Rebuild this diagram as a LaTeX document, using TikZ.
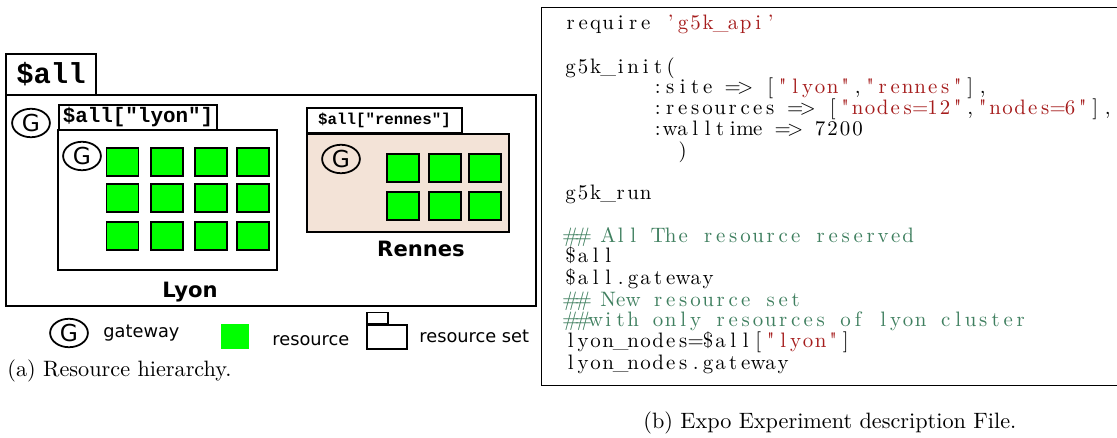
\documentclass[tikz,border=0pt]{standalone}
\usepackage{fontspec}
\newfontfamily\dejavu{DejaVu Sans}
\newfontfamily\cour{Liberation Mono}
\newfontfamily\codefont{lmroman10-regular.otf}[Ligatures=TeXOff]
\usetikzlibrary{shapes.geometric}
\definecolor{setfill}{RGB}{243,227,215}
\definecolor{resgreen}{RGB}{0,255,0}
\definecolor{codestr}{RGB}{165,28,28}
\definecolor{codecom}{RGB}{63,127,95}
\newlength{\codew}\setlength{\codew}{5.625pt}
\ExplSyntaxOn
\NewDocumentCommand{\codechars}{m}{\tl_map_inline:nn {#1} {\makebox[\codew]{##1}}}
\ExplSyntaxOff
\begin{document}
\begin{tikzpicture}[x=0.45pt,y=-0.45pt,gwstyle/.style={ellipse,draw,line width=0.8pt,inner sep=0pt,minimum width=17pt,minimum height=12.8pt,font=\dejavu\fontsize{10.5}{10.5}\selectfont}]
		\tikzstyle{resbox}=[draw,line width=0.8pt,fill=resgreen,minimum width=14.4pt,minimum height=12.8pt,inner sep=0pt]
		\tikzstyle{setlbl}=[draw,line width=0.9pt,fill=white,inner sep=0pt]
		\tikzstyle{setbox}=[draw,line width=0.8pt,inner sep=0pt]
		\tikzstyle{sitename}=[anchor=base,inner sep=0pt,font=\dejavu\bfseries\fontsize{9.5}{9.5}\selectfont]
		\tikzstyle{legtext}=[anchor=base west,inner sep=0pt,font=\dejavu\fontsize{8}{8}\selectfont]
		\tikzstyle{codeline}=[anchor=base west,inner sep=0pt,font=\codefont\fontsize{9.4}{11}\selectfont]
		\useasboundingbox (0,0) rectangle (1117,438);
		
		% resource hierarchy
		\node[setbox,minimum width=238.5pt,minimum height=95pt] (allBox) at (271,200.5){};
		\node[setlbl,minimum width=40.5pt,minimum height=18.5pt,font=\cour\bfseries\fontsize{13}{13}\selectfont] (allLbl) at (51,74.5){\$all};
		\node[gwstyle] (gAll) at (31,123){G};
		
		\node[setbox,minimum width=98.5pt,minimum height=63pt] (lyonBox) at (167.5,200){};
		\node[setlbl,minimum width=71.1pt,minimum height=11.25pt,font=\cour\bfseries\fontsize{9.4}{9.4}\selectfont] (lyonLbl) at (138,117.5){\$all["lyon"]};
		\node[gwstyle] (gLyon) at (82,156){G};
		\foreach \x [count=\i] in {122.5,167,211,253}
		{\foreach \y [count=\j] in {162,198,236}
			\node[resbox] (ly\j\i) at (\x,\y){};}
		\node[sitename] (lyonTxt) at (190,298){Lyon};
		
		\node[setbox,fill=setfill,minimum width=90.9pt,minimum height=44.1pt] (rennesBox) at (408,183){};
		\node[setlbl,minimum width=69.75pt,minimum height=11.25pt,font=\cour\bfseries\fontsize{7.1}{7.1}\selectfont] (rennesLbl) at (384.5,120.5){\$all["rennes"]};
		\node[gwstyle] (gRennes) at (341,159){G};
		\foreach \x [count=\i] in {403,445,485}
		{\foreach \y [count=\j] in {168,206}
			\node[resbox] (rn\j\i) at (\x,\y){};}
		\node[sitename] (rennesTxt) at (421,257){Rennes};
		
		% legend
		\node[gwstyle] (gLeg) at (69,333){G};
		\node[legtext] (gLegTxt) at (103,338){gateway};
		\node[fill=resgreen,minimum width=12.6pt,minimum height=11.25pt,inner sep=0pt] (resLeg) at (235,336.5){};
		\node[legtext] (resLegTxt) at (272,345.5){resource};
		\node[draw,line width=0.6pt,minimum width=18pt,minimum height=10.8pt,inner sep=0pt] (setLeg) at (387,337){};
		\node[draw,line width=0.6pt,minimum width=9.45pt,minimum height=4.95pt,inner sep=0pt,anchor=south west] (setLegTab) at (setLeg.north west){};
		\node[legtext] (setLegTxt) at (419,343){resource set};
		
		\node[anchor=base west,inner sep=0pt] (capA) at (7,377){(a) Resource hierarchy.};
		
		% experiment file
		\node[draw,line width=0.5pt,minimum width=263pt,minimum height=170.1pt,inner sep=0pt,anchor=north west] (codeBox) at (541,7){};
		\node[codeline] (c1) at (564,30){\codechars{require~}\textcolor{codestr}{\codechars{\textquoteright g5k\_api\textquoteright}}};
		\node[codeline] (c2) at (564,74){\codechars{g5k\_init(}};
		\node[codeline] (c3) at (651,94){\codechars{:site~=>~[}\textcolor{codestr}{\codechars{"lyon"}}\codechars{,}\textcolor{codestr}{\codechars{"rennes"}}\codechars{],}};
		\node[codeline] (c4) at (651,115){\codechars{:resources~=>~[}\textcolor{codestr}{\codechars{"nodes=12"}}\codechars{,}\textcolor{codestr}{\codechars{"nodes=6"}}\codechars{],}};
		\node[codeline] (c5) at (651,136){\codechars{:walltime~=>~7200}};
		\node[codeline] (c6) at (676,158){\codechars{)}};
		\node[codeline] (c7) at (564,200){\codechars{g5k\_run}};
		\node[codeline,text=codecom] (c8) at (564,243){\codechars{\#\#~All~The~resource~reserved}};
		\node[codeline] (c9) at (564,263){\codechars{\$all}};
		\node[codeline] (c10) at (564,285){\codechars{\$all.gateway}};
		\node[codeline,text=codecom] (c11) at (564,307){\codechars{\#\#~New~resource~set}};
		\node[codeline,text=codecom] (c12) at (564,327){\codechars{\#\#with~only~resources~of~lyon~cluster}};
		\node[codeline] (c13) at (564,348){\codechars{lyon\_nodes=\$all[}\textcolor{codestr}{\codechars{"lyon"}}\codechars{]}};
		\node[codeline] (c14) at (564,370){\codechars{lyon\_nodes.gateway}};
		
		\node[anchor=base west,inner sep=0pt] (capB) at (643,428){(b) Expo Experiment description File.};
		
		\end{tikzpicture}
\end{document}
